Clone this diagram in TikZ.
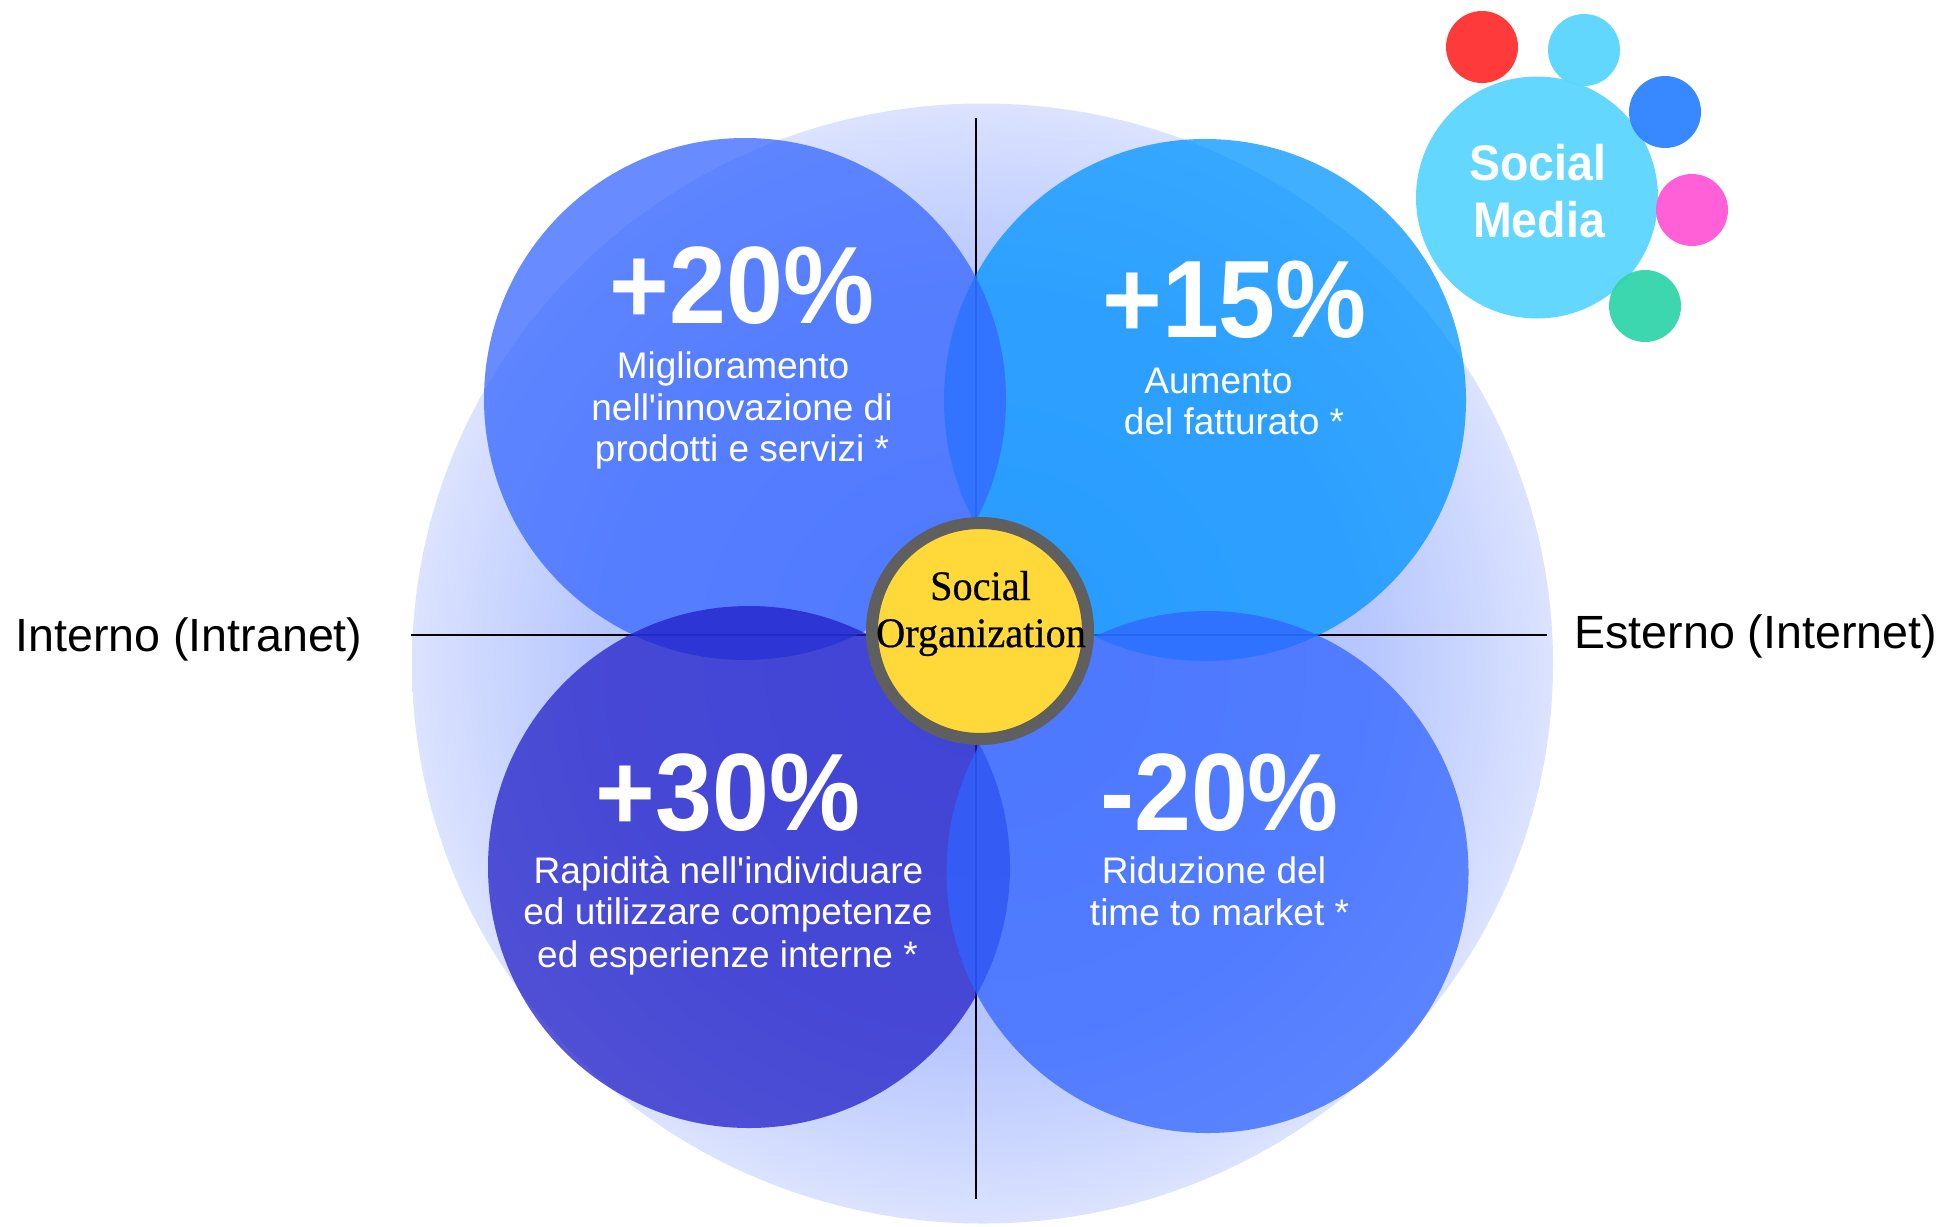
\documentclass[tikz,border=0pt]{standalone}
\usepackage{fontspec}
\setmainfont{Liberation Sans}
\newfontfamily\boldcond[FakeStretch=0.93]{Liberation Sans}
\newfontfamily\serifface[FakeStretch=0.96,FakeBold=0.5]{Liberation Serif}
\usetikzlibrary{shapes.geometric}
\pgfdeclareradialshading{bigring}{\pgfpoint{0bp}{0bp}}{rgb(0bp)=(0.62,0.70,1); rgb(17bp)=(0.72,0.78,1); rgb(25bp)=(0.86,0.89,1); rgb(50bp)=(0.86,0.89,1)}
\definecolor{tlc}{RGB}{53,102,255}
\definecolor{trc}{RGB}{0,148,255}
\definecolor{blc}{RGB}{33,31,200}
\definecolor{brc}{RGB}{48,100,255}
\definecolor{sunyellow}{RGB}{255,217,58}
\definecolor{ringgray}{RGB}{95,95,95}
\definecolor{smcyan}{RGB}{91,213,254}
\definecolor{smred}{RGB}{255,50,50}
\definecolor{smblue}{RGB}{48,132,255}
\definecolor{smpink}{RGB}{255,90,214}
\definecolor{smgreen}{RGB}{52,212,172}
\tikzset{
  bubble/.style={circle, inner sep=0pt, minimum size=261pt, draw=none, fill opacity=0.75},
  dot/.style={circle, inner sep=0pt, minimum size=36pt, draw=none, fill opacity=0.96},
  pct/.style={inner sep=0pt, anchor=base, text=white, font=\boldcond\bfseries\fontsize{55}{60}\selectfont},
  body/.style={inner sep=0pt, anchor=base, text=white, font=\fontsize{18.5}{22}\selectfont},
  side/.style={inner sep=0pt, anchor=base west, text=black, font=\fontsize{23.3}{28}\selectfont},
  coretxt/.style={inner sep=0pt, anchor=base, text=black, font=\serifface\fontsize{21}{24}\selectfont},
  smtxt/.style={inner sep=0pt, anchor=base, text=white, font=\boldcond\bfseries\fontsize{25}{30}\selectfont},
  axis/.style={draw=black, line width=1pt}
}
\begin{document}
\begin{tikzpicture}[x=0.5pt, y=-0.5pt]
\useasboundingbox (0,0) rectangle (1947,1226);
% big background disc
\node[ellipse, inner sep=0pt, minimum width=570.5pt, minimum height=560pt, shade, shading=bigring] (big) at (982.5,663.5) {};
% axes
\coordinate (hl) at (411,635);
\coordinate (hr) at (1547,635);
\coordinate (vt) at (976,118);
\coordinate (vb) at (976,1199);
\draw[axis] (hl) -- (hr);
\draw[axis] (vt) -- (vb);
% four bubbles
\node[bubble, fill=trc] (tr) at (1205,400) {};
\node[bubble, fill=tlc] (tl) at (745,399) {};
\node[bubble, fill=blc] (bl) at (749,867) {};
\node[bubble, fill=brc] (br) at (1207.5,872) {};
% centre
\node[circle, inner sep=0pt, minimum size=108pt, draw=ringgray, line width=6pt, fill=sunyellow] (core) at (980,631) {};
\node[coretxt] (core1) at (980.5,600) {Social};
\node[coretxt] (core2) at (981,647) {Organization};
% texts
\node[pct] (p1) at (742,323) {+20\%};
\node[body] (t1a) at (733,378) {Miglioramento};
\node[body] (t1b) at (742,420) {nell\textquotesingle innovazione di};
\node[body] (t1c) at (742,461) {prodotti e servizi *};
\node[pct] (p2) at (1234.5,337) {+15\%};
\node[body] (t2a) at (1218.5,393) {Aumento};
\node[body] (t2b) at (1234,434) {del fatturato *};
\node[pct] (p3) at (728,830) {+30\%};
\node[body] (t3a) at (728.5,883) {Rapidità nell\textquotesingle individuare};
\node[body] (t3b) at (728,924) {ed utilizzare competenze};
\node[body] (t3c) at (727.5,967) {ed esperienze interne *};
\node[pct] (p4) at (1219.5,830) {-20\%};
\node[body] (t4a) at (1214,883) {Riduzione del};
\node[body] (t4b) at (1219.5,925) {time to market *};
% side labels
\node[side] (intra) at (15,651) {Interno (Intranet)};
\node[side] (inter) at (1574,648) {Esterno (Internet)};
% social media cluster
\node[dot, fill=smred] (sred) at (1482,47) {};
\node[dot, fill=smcyan] (scyan) at (1584,50) {};
\node[circle, inner sep=0pt, minimum size=121pt, draw=none, fill=smcyan, fill opacity=0.95] (sm) at (1537,197.5) {};
\node[dot, fill=smblue] (sblue) at (1665,112) {};
\node[dot, fill=smpink] (spink) at (1692,210) {};
\node[dot, fill=smgreen] (sgreen) at (1645,306) {};
\node[smtxt] (sm1) at (1538,180) {Social};
\node[smtxt] (sm2) at (1539,237) {Media};
\end{tikzpicture}
\end{document}
